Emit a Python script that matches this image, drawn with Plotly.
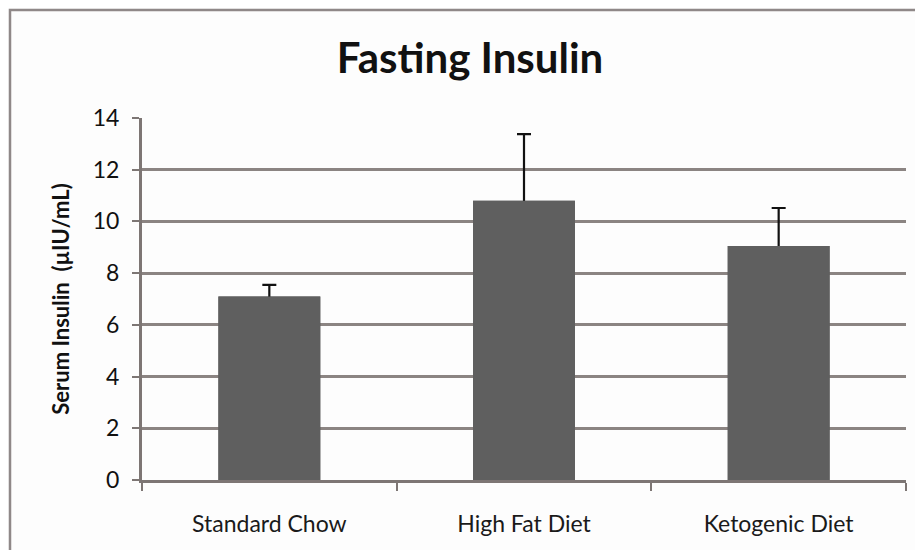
import plotly.graph_objects as go

categories = ["Standard Chow", "High Fat Diet", "Ketogenic Diet"]
insulin = [7.1, 10.8, 9.05]
insulin_err = [0.45, 2.58, 1.47]
y_ticks = [0, 2, 4, 6, 8, 10, 12, 14]

bar_color = "#5f5f5f"
grid_color = "#8b8482"
axis_color = "#7d7674"
font_family = "Lato, 'Open Sans', sans-serif"

# figure sized to fit inside the page's 8px body margin
W, H = 907, 542
L, R, T, B = 134, 9, 110, 70
pw, ph = W - L - R, H - T - B

fig = go.Figure()
# bar with error bars (lower half hidden by the overlay bar)
fig.add_trace(go.Bar(
    x=categories, y=insulin, marker=dict(color=bar_color, line=dict(width=0)),
    error_y=dict(type="data", array=insulin_err, visible=True, color="#111111",
                 thickness=2.2, width=7),
    hoverinfo="skip", showlegend=False,
))
fig.add_trace(go.Bar(
    x=categories, y=insulin, marker=dict(color=bar_color, line=dict(width=0)),
    showlegend=False,
))

fig.update_layout(
    width=W, height=H,
    barmode="overlay", bargap=0.6,
    paper_bgcolor="#fdfdfd", plot_bgcolor="#fdfdfd",
    margin=dict(l=L, r=R, t=T, b=B),
    title=dict(text="<b>Fasting Insulin</b>", x=462 / W, xanchor="center",
               y=1 - 50 / H, yanchor="middle",
               font=dict(family=font_family, size=42, color="#111111")),
    font=dict(family=font_family, color="#1a1a1a"),
    xaxis=dict(
        type="category", tickson="boundaries", ticks="outside", ticklen=8,
        tickwidth=2, tickcolor=axis_color, showline=True, linecolor=axis_color,
        linewidth=3, showgrid=False, tickfont=dict(size=23, color="#1a1a1a"),
        ticklabelstandoff=21,
        range=[-0.5, 2.5], fixedrange=True,
    ),
    yaxis=dict(
        range=[0, 14], tickvals=y_ticks, ticks="outside", ticklen=7,
        tickwidth=2, tickcolor=axis_color, showline=True, linecolor=axis_color,
        linewidth=3, showgrid=True, gridcolor=grid_color, gridwidth=2.5,
        zeroline=False, tickfont=dict(size=23, color="#111111"),
        ticklabelstandoff=8,
        title=dict(text="<b>Serum Insulin  (µIU/mL)</b>", standoff=18,
                   font=dict(size=22, color="#111111")),
    ),
    shapes=[dict(type="rect", xref="paper", yref="paper",
                 x0=(2 - L) / pw, x1=1.3, y0=-0.6, y1=(H - B - 2) / ph,
                 line=dict(color="#8f8888", width=2.5), layer="below")],
)

fig.write_html("out.html")
